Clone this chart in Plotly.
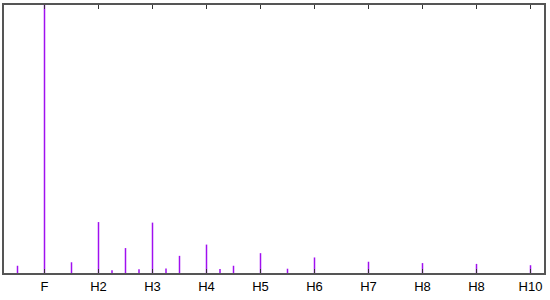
import plotly.graph_objects as go

# harmonic positions (1 = fundamental) and relative amplitudes
positions = [0.5, 1, 1.5, 2, 2.25, 2.5, 2.75, 3, 3.25, 3.5, 4, 4.25, 4.5, 5, 5.5, 6, 7, 8, 9, 10]
amplitudes = [0.027, 1.0, 0.040, 0.190, 0.010, 0.093, 0.014, 0.188, 0.017, 0.064,
              0.106, 0.015, 0.027, 0.074, 0.016, 0.058, 0.042, 0.037, 0.034, 0.029]
tick_values = [1, 2, 3, 4, 5, 6, 7, 8, 9, 10]
tick_labels = ["F", "H2", "H3", "H4", "H5", "H6", "H7", "H8", "H8", "H10"]

xs, ys = [], []
for p, a in zip(positions, amplitudes):
    xs += [p, p, None]
    ys += [0, a, None]

fig = go.Figure(go.Scatter(x=xs, y=ys, mode="lines",
                           line=dict(color="#a010f0", width=1.5),
                           hoverinfo="skip", showlegend=False))

axis_common = dict(showline=True, linecolor="#555555", linewidth=2, mirror="ticks",
                   showgrid=False, zeroline=False)
fig.update_xaxes(range=[0.25, 10.25], tickmode="array", tickvals=tick_values,
                 ticktext=tick_labels, ticks="inside", ticklen=4, tickcolor="#333333",
                 tickwidth=1, tickfont=dict(family="Liberation Sans", size=13, color="#000000"),
                 **axis_common)
fig.update_yaxes(range=[0, 1], showticklabels=False, ticks="", **axis_common)
fig.update_layout(width=550, height=300, margin=dict(l=4, r=6, t=3, b=27),
                  paper_bgcolor="white", plot_bgcolor="white")
fig.write_html("out.html", config={"displayModeBar": False},
               post_script="document.body.style.margin='0';")
